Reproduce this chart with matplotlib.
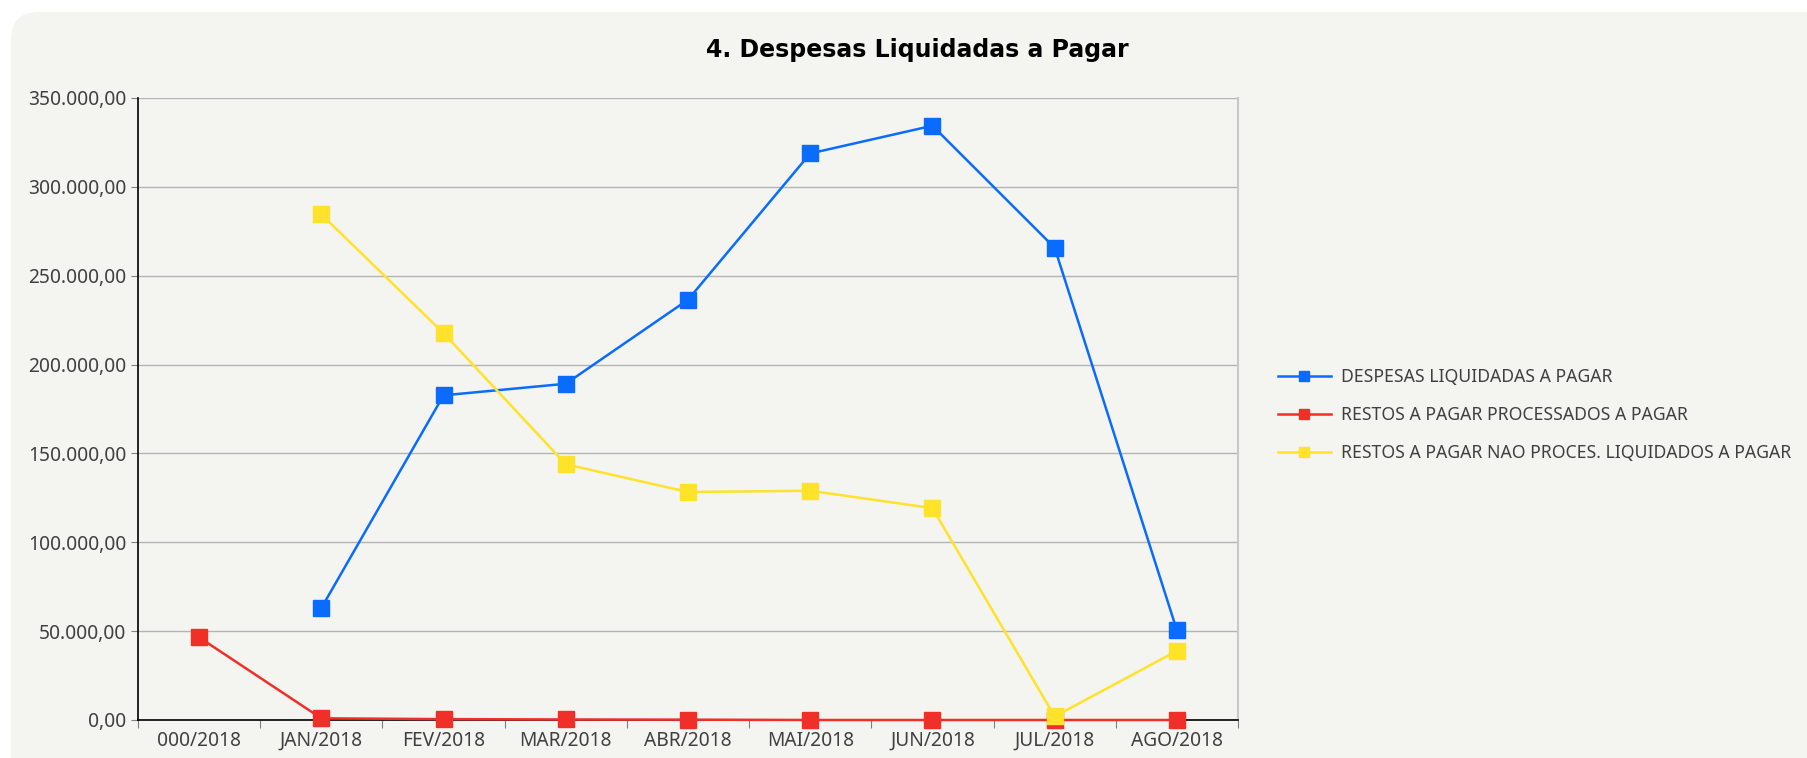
import numpy as np
import matplotlib.pyplot as plt
from matplotlib.patches import FancyBboxPatch
from matplotlib.ticker import FuncFormatter

meses = ['000/2018', 'JAN/2018', 'FEV/2018', 'MAR/2018', 'ABR/2018',
         'MAI/2018', 'JUN/2018', 'JUL/2018', 'AGO/2018']
despesas = [np.nan, 63000, 182700, 189200, 236500, 318800, 334400, 265700, 50500]
rp_proc = [46500, 950, 500, 300, 200, 0, 0, 0, 0]
rp_nao_proc = [np.nan, 284500, 217700, 143900, 128300, 129000, 119200, 2000, 38900]

series_nomes = ['DESPESAS LIQUIDADAS A PAGAR',
                'RESTOS A PAGAR PROCESSADOS A PAGAR',
                'RESTOS A PAGAR NAO PROCES. LIQUIDADOS A PAGAR']
cores = ['#0a6cff', '#f03028', '#ffe22a']

plt.rcParams['font.family'] = ['Noto Sans', 'DejaVu Sans']

fig = plt.figure(figsize=(18.07, 7.58), dpi=100)
fig.patch.set_facecolor('white')
# fundo cinza arredondado
bg = FancyBboxPatch((11, -40), 1850, 786, boxstyle='round,pad=0,rounding_size=28',
                    transform=None, facecolor='#f4f4f0', edgecolor='none', zorder=-10)
fig.patches.append(bg)

ax = fig.add_axes([138 / 1807, 38 / 758, 1100 / 1807, 622 / 758])
ax.set_facecolor('#f4f4f0')

x = np.arange(len(meses))
for dados, nome, cor in zip([despesas, rp_proc, rp_nao_proc], series_nomes, cores):
    ax.plot(x, dados, color=cor, lw=1.8, marker='s', ms=12, label=nome,
            clip_on=False, zorder=3)

ax.set_xlim(-0.5, len(meses) - 0.5)
ax.set_ylim(0, 350000)
ax.set_yticks(np.arange(0, 350001, 50000))
ax.yaxis.set_major_formatter(FuncFormatter(
    lambda v, p: '{:,.2f}'.format(v).replace(',', 'X').replace('.', ',').replace('X', '.')))
ax.grid(axis='y', color='#b4b4b4', lw=1)
ax.set_axisbelow(True)

ax.set_xticks(np.arange(-0.5, len(meses) - 0.4, 1))
ax.set_xticklabels([])
ax.set_xticks(x, minor=True)
ax.set_xticklabels(meses, minor=True)
ax.tick_params(axis='x', which='major', length=6, color='#808080', direction='out')
ax.tick_params(axis='x', which='minor', length=0, pad=8, labelsize=13.8, labelcolor='#404040')
ax.tick_params(axis='y', length=5, color='#808080', labelsize=13.8, labelcolor='#404040')

for s in ['left', 'bottom']:
    ax.spines[s].set_color('black')
    ax.spines[s].set_linewidth(1.2)
ax.spines['top'].set_visible(False)
ax.spines['right'].set_color('#c8c8c8')
ax.spines['right'].set_linewidth(1.5)

fig.text(917 / 1807, 1 - 50 / 758, '4. Despesas Liquidadas a Pagar', ha='center', va='center',
         fontsize=17, fontweight='bold', color='black', family=['DejaVu Sans'])

leg = ax.legend(loc='center left', bbox_to_anchor=(1262 / 1807, 1 - 415 / 758),
                bbox_transform=fig.transFigure, frameon=False, fontsize=12.7,
                handlelength=3.0, handletextpad=0.6, labelspacing=1.15, markerscale=0.6)
for t in leg.get_texts():
    t.set_color('#404040')

fig.savefig('out.png', dpi=100, facecolor=fig.get_facecolor())
